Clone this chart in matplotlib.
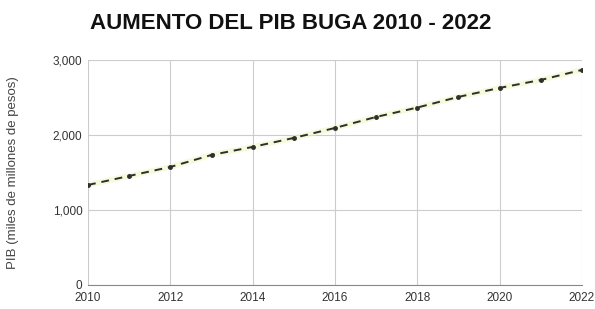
import numpy as np
import matplotlib.pyplot as plt

# PIB Buga por año (miles de millones de pesos)
years = [2010, 2011, 2012, 2013, 2014, 2015, 2016, 2017, 2018, 2019, 2020, 2021, 2022]
pib = [1333, 1453, 1573, 1733, 1840, 1960, 2093, 2240, 2365, 2507, 2627, 2733, 2867]
xticks = [2010, 2012, 2014, 2016, 2018, 2020, 2022]
yticks = [0, 1000, 2000, 3000]
ytick_labels = ["0", "1,000", "2,000", "3,000"]

plt.rcParams['font.family'] = ['Liberation Sans', 'DejaVu Sans']

fig = plt.figure(figsize=(5.95, 3.09), dpi=100)
ax = fig.add_axes([0.148, 0.078, 0.83, 0.728])

# faint yellow glow under the line
ax.plot(years, pib, color="#eef4b8", linewidth=4, alpha=0.5, zorder=2)
ax.plot(years, pib, color="#2e2e2e", linestyle=(0, (4, 3)), linewidth=1.4,
        marker="o", markersize=2.5, zorder=3)

ax.set_xlim(2010, 2022)
ax.set_ylim(0, 3000)
ax.set_xticks(xticks)
ax.set_xticklabels([str(x) for x in xticks])
ax.set_yticks(yticks)
ax.set_yticklabels(ytick_labels)
ax.tick_params(length=0, labelsize=8.5, labelcolor="#333333", pad=4)
ax.tick_params(axis="x", pad=5)

ax.grid(True, color="#cccccc", linewidth=0.8)
for s in ["top", "right", "left"]:
    ax.spines[s].set_visible(False)
ax.spines["bottom"].set_color("#888888")

ax.set_ylabel("PIB (miles de millones de pesos)", fontsize=9.5, color="#444444", labelpad=24)

fig.text(0.488, 0.925, "AUMENTO DEL PIB BUGA 2010 - 2022", ha="center", va="center",
         fontsize=16, fontweight="bold", color="#111111")

fig.savefig("out.png", dpi=100)
